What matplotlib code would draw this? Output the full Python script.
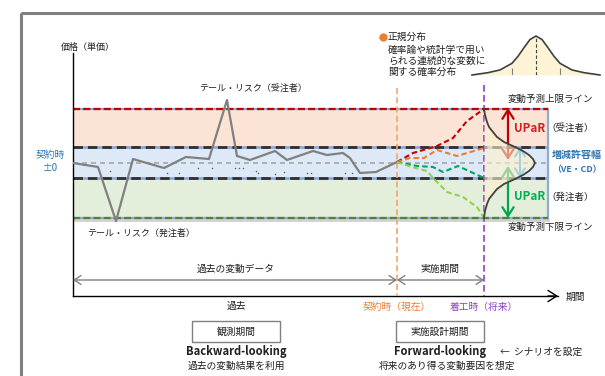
import matplotlib
matplotlib.use("Agg")
import matplotlib.pyplot as plt
from matplotlib.patches import Rectangle

plt.rcParams["font.family"] = ["Noto Sans CJK JP", "DejaVu Sans"]

W, H = 605, 376

# time: units from start of record; price: deviation from contract price (±0)
hist_t = [0, 25, 43, 60, 91, 113, 136, 154, 164, 177, 202, 214, 240, 254, 270, 277, 287, 303, 324]
hist_p = [0, -4, -58, 4, -5, 6, 4, 63, 7, 3, 12, 3, 12, 8, 10, 5, -10, -9, 1]

dot_t = [37, 94, 106, 125, 139, 162, 166, 170, 183, 185, 202, 211, 234, 238, 272, 279]
dot_p = [-8, -10, -10, -5, -5, -5, -5, -5, -8, -10, -11, -9, -10, -10, -10, -10]

red_t = [324, 340, 364, 380, 394, 411]
red_p = [1, 10, 17, 25, 42, 54]
orange_t = [324, 337, 351, 364, 384, 411]
orange_p = [1, 5, 5, 13, 7, 15]
green_t = [324, 344, 360, 370, 385, 411]
green_p = [1, -3, -4, -9, -3, -15]
lgreen_t = [324, 339, 354, 362, 374, 390, 404, 411]
lgreen_p = [1, -4, -8, -17, -29, -34, -44, -55]

t_contract = 324
t_start = 411
t_band_end = 475
t_axis_end = 485

upper_limit = 54
allow_hi = 16
allow_lo = -15
lower_limit = -55

# normal distribution drawn sideways at the start of construction
dist_p = [54, 48, 41, 36, 31, 26, 21, 16, 12, 8, 4, 0, -4, -8, -12, -16, -21, -26, -31, -36, -41, -48, -55]
dist_w = [0, 1, 3, 5, 9, 13, 20, 31, 39, 45, 49, 51, 49, 45, 39, 31, 20, 13, 9, 5, 3, 1, 0]

# small bell icon (x in sigma, relative height)
bell_s = [-2.67, -2.0, -1.5, -1.0, -0.75, -0.5, -0.25, 0, 0.25, 0.5, 0.75, 1.0, 1.5, 2.0, 2.67]
bell_h = [0, 0.06, 0.13, 0.30, 0.48, 0.70, 0.91, 1, 0.91, 0.70, 0.48, 0.30, 0.13, 0.06, 0]

PEACH, LBLUE, LGREEN = "#fbe4d6", "#dde9f6", "#e3efda"
EDGE_BLUE = "#8eaadb"
BLUE_TXT = "#2e75b6"
RED, ORANGE, DGREEN, YGREEN = "#c00000", "#ed7d31", "#00a650", "#92d050"
PURPLE = "#9040c8"
GRAY = "#808080"

fig = plt.figure(figsize=(W / 100, H / 100), dpi=100)

ax = fig.add_axes([73 / W, 1 - 296 / H, (558 - 73) / W, (296 - 53) / H])
ax.set_xlim(0, t_axis_end)
ax.set_ylim(-133, 110)
ax.patch.set_visible(False)
for s in ("top", "right"):
    ax.spines[s].set_visible(False)
for s in ("left", "bottom"):
    ax.spines[s].set_color("black")
    ax.spines[s].set_linewidth(1.0)
ax.set_xticks([])
ax.set_yticks([])

# bands
span = [0, t_band_end]
ax.fill_between(span, allow_hi, upper_limit, color=PEACH, lw=0, zorder=1)
ax.fill_between(span, allow_lo, allow_hi, color=LBLUE, lw=0, zorder=1)
ax.fill_between(span, lower_limit, allow_lo, color=LGREEN, lw=0, zorder=1)
ax.plot(span, [lower_limit - 2] * 2, color="#d0d0d0", lw=2, zorder=1.5)


def band_line(p, color, dashes, lw):
    ax.plot(span, [p, p], color=EDGE_BLUE, lw=lw, solid_capstyle="butt", zorder=2)
    ax.plot(span, [p, p], color=color, lw=lw, dashes=dashes, zorder=2.1)


band_line(upper_limit, RED, (3.2, 1.4), 1.6)
band_line(allow_hi, "#303030", (3.4, 1.8), 2.0)
band_line(allow_lo, "#303030", (3.4, 1.8), 2.0)
band_line(lower_limit, "#548235", (3.2, 1.4), 1.6)
ax.plot([t_band_end] * 2, [lower_limit, upper_limit], color=EDGE_BLUE, lw=1.6, zorder=2)
ax.plot(span, [0, 0], color="#a6a6a6", lw=1.2, dashes=(3, 2.4), zorder=2)

# past record
ax.plot(hist_t, hist_p, color=GRAY, lw=1.6, zorder=4)
ax.scatter(dot_t, dot_p, s=1.2, color="#606060", lw=0, zorder=3)

# scenarios
for t, p, c in ((red_t, red_p, RED), (orange_t, orange_p, ORANGE),
                (green_t, green_p, DGREEN), (lgreen_t, lgreen_p, YGREEN)):
    ax.plot(t, p, color=c, lw=1.5, dashes=(2.6, 1.5), zorder=4)

# vertical markers
ax.plot([t_contract] * 2, [75, -133], color="#f4a46a", lw=1.2, dashes=(3.6, 2), zorder=3)
ax.plot([t_start] * 2, [78, -133], color=PURPLE, lw=1.2, dashes=(4, 2), zorder=3)

# UPaR arrows and allowance arrow
arrow_t = 435
ax.annotate("", xy=(arrow_t, upper_limit + 1), xytext=(arrow_t, 3),
            arrowprops=dict(arrowstyle="<->,head_length=0.7,head_width=0.45",
                            color=RED, lw=1.6, shrinkA=0, shrinkB=0, mutation_scale=9),
            zorder=4)
ax.annotate("", xy=(arrow_t, lower_limit), xytext=(arrow_t, -3),
            arrowprops=dict(arrowstyle="<->,head_length=0.7,head_width=0.45",
                            color=DGREEN, lw=1.6, shrinkA=0, shrinkB=0, mutation_scale=9),
            zorder=4)
ax.annotate("", xy=(447, allow_hi), xytext=(447, allow_lo),
            arrowprops=dict(arrowstyle="<->,head_length=0.7,head_width=0.45",
                            color="#1ea0e0", lw=1.4, shrinkA=0, shrinkB=0, mutation_scale=8),
            zorder=4)

# sideways normal distribution
dist_x = [t_start + w for w in dist_w]
ax.fill_betweenx(dist_p, t_start, dist_x, color="#fff2cc", alpha=0.6, lw=0, zorder=5)
ax.plot(dist_x, dist_p, color="#404040", lw=1.3, zorder=6)

# period arrows
arr = dict(arrowstyle="<->,head_length=0.6,head_width=0.4", color=GRAY, lw=1.0,
           shrinkA=0, shrinkB=0, mutation_scale=8)
ax.annotate("", xy=(0, -117), xytext=(t_contract, -117), arrowprops=arr)
ax.annotate("", xy=(t_contract, -117), xytext=(t_start, -117), arrowprops=arr)

# x axis arrow head
ax.annotate("", xy=(t_axis_end, -133), xytext=(t_axis_end - 10, -133),
            arrowprops=dict(arrowstyle="->,head_length=0.7,head_width=0.45", color="black",
                            lw=1.0, shrinkA=0, shrinkB=0, mutation_scale=9),
            annotation_clip=False)

# bell icon
ins = fig.add_axes([472 / W, 1 - 75 / H, 128 / W, 39 / H])
ins.set_xlim(bell_s[0], bell_s[-1])
ins.set_ylim(0, 1)
ins.axis("off")
ins.fill_between(bell_s, 0, bell_h, color="#fdf3d5", lw=0)
ins.plot(bell_s, bell_h, color="#404040", lw=1.2, clip_on=False)
ins.plot([0, 0], [0, 1], color="#404040", lw=0.8, dashes=(3, 2))
ins.vlines([-1, 1], 0, 0.18, color=GRAY, lw=0.8)

# text layer in pixel coordinates
ov = fig.add_axes([0, 0, 1, 1])
ov.set_xlim(0, W)
ov.set_ylim(H, 0)
ov.axis("off")
ov.add_patch(Rectangle((21, 13), 700, 500, fill=False, ec="#7f7f7f", lw=2.2))


def txt(x, y, s, size=6.8, ha="center", **kw):
    ov.text(x, y, s, fontsize=size, ha=ha, va="center", color=kw.pop("color", "#202020"), **kw)


txt(88, 47, "価格（単価）", 6.5)
txt(253, 88, "テール・リスク（受注者）", 6.5)
txt(141, 233, "テール・リスク（発注者）", 6.5)
txt(50, 155, "契約時", 7, color=BLUE_TXT)
txt(50, 168, "±0", 7, color=BLUE_TXT)

ov.plot([383], [37], "o", color=ORANGE, ms=5)
txt(388, 37, "正規分布", 7, ha="left")
txt(388, 50, "確率論や統計学で用い", 7, ha="left")
txt(388, 61, "られる連続的な変数に", 7, ha="left")
txt(388, 72, "関する確率分布", 7, ha="left")

txt(550, 99, "変動予測上限ライン", 6.8)
txt(514, 128, "UPaR", 8.4, ha="left", color="#d02020", fontweight="bold")
txt(546, 128, "（受注者）", 6.8, ha="left")
txt(552, 155, "増減許容幅", 7.2, ha="left", color=BLUE_TXT, fontweight="bold")
txt(577, 170, "（VE・CD）", 6.4, color=BLUE_TXT, fontweight="bold")
txt(514, 197, "UPaR", 8.4, ha="left", color="#00b050", fontweight="bold")
txt(546, 197, "（発注者）", 6.8, ha="left")
txt(550, 227, "変動予測下限ライン", 6.8)

txt(236, 269, "過去の変動データ", 7)
txt(440, 269, "実施期間", 7)
txt(566, 297, "期間", 7, ha="left")
txt(236, 306, "過去", 7)
txt(397, 307, "契約時（現在）", 7, color=ORANGE)
txt(484, 307, "着工時（将来）", 7, color=PURPLE)

ov.add_patch(Rectangle((192, 321), 88, 21, fill=False, ec=GRAY, lw=1.0))
ov.add_patch(Rectangle((396, 321), 88, 21, fill=False, ec=GRAY, lw=1.0))
txt(236, 332, "観測期間", 7)
txt(440, 332, "実施設計期間", 7)

txt(236, 352, "Backward-looking", 8, fontweight="bold")
txt(236, 366, "過去の変動結果を利用", 7)
txt(440, 352, "Forward-looking", 8, fontweight="bold")
txt(500, 352, "←  シナリオを設定", 7, ha="left")
txt(447, 366, "将来のあり得る変動要因を想定", 7)

fig.savefig("out.png", dpi=100)
